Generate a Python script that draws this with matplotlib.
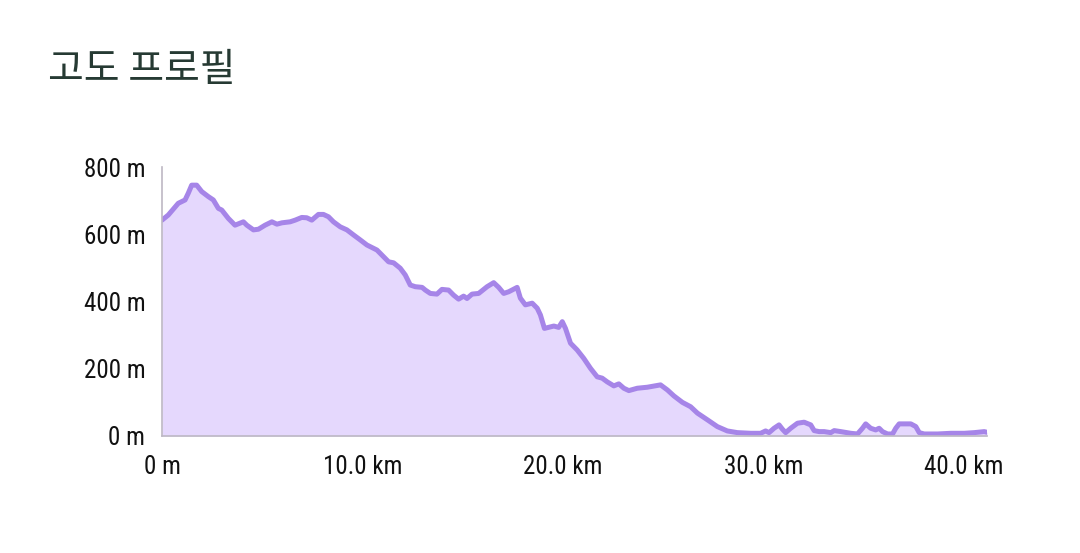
import matplotlib
matplotlib.use("Agg")
import matplotlib.pyplot as plt
from matplotlib import font_manager

# distance (km) and elevation (m)
dist_km = [
    0.0, 0.31, 0.81, 1.15, 1.31, 1.48, 1.73, 1.98, 2.31, 2.56, 2.81, 2.98,
    3.31, 3.64, 4.06, 4.23, 4.56, 4.81, 5.14, 5.48, 5.73, 5.98, 6.39, 6.64,
    6.97, 7.22, 7.47, 7.80, 8.05, 8.30, 8.55, 8.89, 9.22, 9.55, 9.89, 10.22,
    10.72, 11.05, 11.30, 11.55, 11.88, 12.13, 12.38, 12.63, 12.97, 13.13,
    13.38, 13.71, 13.96, 14.29, 14.54, 14.79, 15.04, 15.21, 15.46, 15.79,
    16.21, 16.54, 16.79, 17.04, 17.29, 17.71, 17.87, 18.12, 18.46, 18.71,
    18.87, 19.07, 19.54, 19.78, 19.96, 20.12, 20.37, 20.70, 21.03, 21.37,
    21.70, 21.95, 22.20, 22.53, 22.78, 23.03, 23.28, 23.70, 24.20, 24.86,
    25.20, 25.53, 25.95, 26.36, 26.70, 27.20, 27.69, 28.19, 28.69, 29.36,
    29.85, 30.10, 30.27, 30.52, 30.77, 30.94, 31.10, 31.35, 31.69, 32.02,
    32.35, 32.52, 32.77, 33.02, 33.35, 33.52, 33.85, 34.35, 34.68, 34.93,
    35.09, 35.34, 35.59, 35.76, 35.93, 36.18, 36.43, 36.59, 36.76, 37.01,
    37.34, 37.59, 37.76, 38.01, 38.68, 39.34, 40.01, 40.51, 41.00, 41.14,
]
elev_m = [
    642, 657, 692, 702, 722, 746, 746, 727, 712, 702, 677, 672,
    647, 627, 637, 627, 613, 615, 627, 637, 630, 634, 637, 642,
    650, 649, 642, 659, 659, 652, 637, 622, 613, 598, 583, 568,
    553, 533, 518, 515, 499, 479, 449, 444, 442, 434,
    424, 422, 436, 434, 419, 407, 416, 409, 422, 424,
    444, 456, 442, 424, 429, 442, 410, 390, 395, 380,
    360, 320, 327, 323, 340, 320, 276, 256, 231, 201,
    176, 172, 161, 149, 155, 142, 135, 142, 145, 152,
    137, 119, 100, 87, 68, 48, 28, 15, 10, 8,
    8, 15, 10, 23, 33, 20, 10, 23, 38, 41,
    33, 16, 13, 13, 10, 16, 13, 8, 6, 23,
    36, 23, 18, 23, 13, 6, 6, 23, 36, 36,
    36, 28, 10, 6, 6, 8, 8, 10, 13, 11,
]

x_ticks = [0, 10, 20, 30, 40]
x_labels = ["0 m", "10.0 km", "20.0 km", "30.0 km", "40.0 km"]
y_ticks = [0, 200, 400, 600, 800]
y_labels = ["0 m", "200 m", "400 m", "600 m", "800 m"]

# look for a narrow face; the reference uses a condensed sans
fonts = font_manager.fontManager.ttflist
tick_font, tick_stretch = "DejaVu Sans", "normal"
for want in ("Roboto Condensed", "Liberation Sans Narrow", "Open Sans Condensed"):
    if any(f.name == want for f in fonts):
        tick_font = want
        break
else:
    for f in fonts:
        if f.name in ("Roboto", "Noto Sans", "Open Sans") and f.stretch in ("condensed", 300, "semi-condensed"):
            tick_font, tick_stretch = f.name, f.stretch
            break

LINE = "#a685e8"
FILL = "#e5d8fd"
SPINE = "#bdb8c4"

fig = plt.figure(figsize=(10.8, 5.53), dpi=100)
ax = fig.add_axes([0.15, 0.2116, 0.7639, 0.4864])

ax.fill_between(dist_km, elev_m, 0, color=FILL, lw=0)
ax.plot(dist_km, elev_m, color=LINE, lw=3.6, solid_joinstyle="round",
        solid_capstyle="round")

ax.set_xlim(0, dist_km[-1])
ax.set_ylim(0, 800)
ax.set_xticks(x_ticks)
ax.set_xticklabels(x_labels)
ax.set_yticks(y_ticks)
ax.set_yticklabels(y_labels)
ax.tick_params(length=0, labelsize=18, colors="#111111")
ax.tick_params(axis="y", pad=12)
ax.tick_params(axis="x", pad=14)
for lab in ax.get_xticklabels() + ax.get_yticklabels():
    lab.set_fontfamily(tick_font)
    lab.set_fontstretch(tick_stretch)

for side in ("top", "right"):
    ax.spines[side].set_visible(False)
for side in ("left", "bottom"):
    ax.spines[side].set_color(SPINE)
    ax.spines[side].set_linewidth(1.2)

fig.text(48 / 1080, 1 - 70 / 553, "고도 프로필", fontsize=28,
         family=["Noto Sans CJK KR", "DejaVu Sans"], fontweight="medium",
         color="#263a33", va="center", ha="left")

fig.savefig("out.png", dpi=100)
